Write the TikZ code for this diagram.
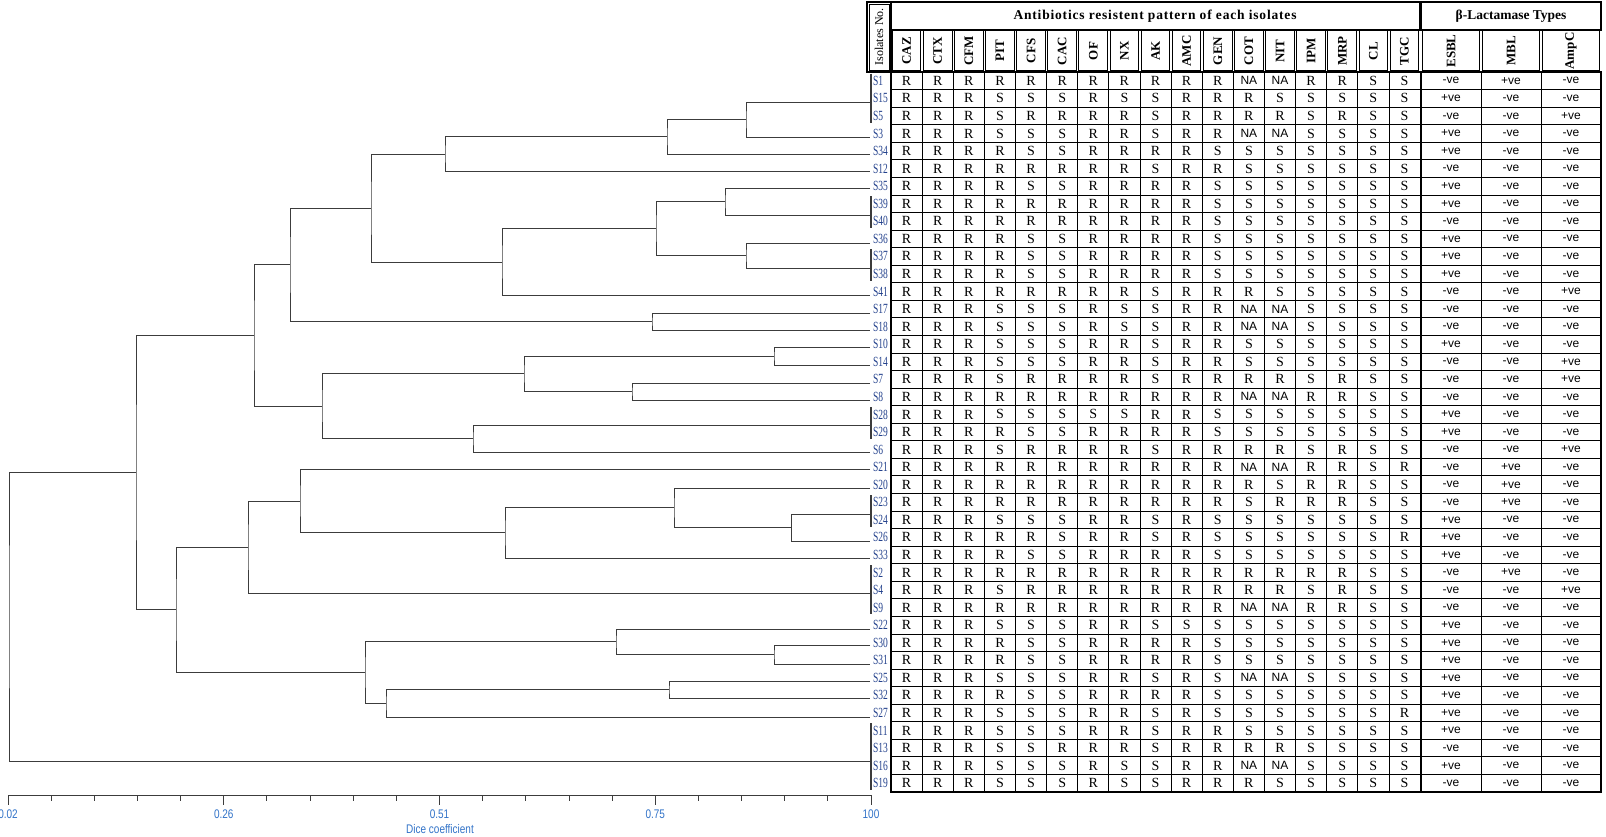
\documentclass[tikz,border=0pt]{standalone}
\usepackage{fontspec}
\setmainfont{Liberation Serif}
\setsansfont{Liberation Sans}
\definecolor{lblue}{RGB}{35,65,140}
\definecolor{ablue}{RGB}{50,115,200}
\definecolor{dline}{RGB}{60,60,60}
\def\cxR{R}\def\cxS{S}
\def\cxN{{\sffamily\fontsize{12}{12}\selectfont NA}}
\def\cxp{{\sffamily\fontsize{12}{12}\selectfont +ve}}
\def\cxm{{\sffamily\fontsize{12}{12}\selectfont -ve}}
\begin{document}
\begin{tikzpicture}[x=1pt,y=-1pt,
  lab/.style={anchor=west,inner sep=0pt,text=lblue,font=\fontsize{14}{14}\selectfont,xscale=0.68},
  cell/.style={inner sep=0pt,font=\fontsize{14}{14}\selectfont},
  colh/.style={rotate=90,inner sep=0pt,font=\bfseries\fontsize{13}{13}\selectfont},
  den/.style={draw=dline,line width=0.9pt},
  grid/.style={draw=black,line width=0.8pt},
  axl/.style={text=ablue,font=\sffamily\fontsize{12.5}{12.5}\selectfont,xscale=0.8,inner sep=0pt}]
\useasboundingbox (0,0) rectangle (1606,837);

% ---------- header ----------
\draw[line width=1.2pt] (867,2) rectangle (891,72);
\draw[line width=0.6pt] (869,4) rectangle (889,70);
\node[rotate=90,inner sep=0pt,font=\fontsize{12}{12}\selectfont] (hiso) at (879,37) {Isolates No.};
\draw[line width=1.2pt] (891,2) rectangle (1420,30);
\draw[line width=1.2pt] (1421,2) rectangle (1601,30);
\node[font=\bfseries\fontsize{13.5}{13.5}\selectfont\addfontfeature{LetterSpace=6}] (htitle) at (1155,16) {Antibiotics resistent pattern of each isolates};
\node[font=\bfseries\fontsize{13.5}{13.5}\selectfont] (hbeta) at (1511,16) {β-Lactamase Types};
\foreach \nm [count=\j] in {CAZ,CTX,CFM,PIT,CFS,CAC,OF,NX,AK,AMC,GEN,COT,NIT,IPM,MRP,CL,TGC}{
  \pgfmathsetmacro\xa{891+31.12*(\j-1)}
  \draw[line width=1pt] (\xa+1.2,31) rectangle (\xa+29.9,71);
  \node[colh] (h\j) at (\xa+15.56,51) {\nm};
}
\foreach \nm [count=\j] in {ESBL,MBL,AmpC}{
  \pgfmathsetmacro\xa{1421+60*(\j-1)}
  \draw[line width=1pt] (\xa+1.2,31) rectangle (\xa+58.8,71);
  \node[colh] (t\j) at (\xa+30,51) {\nm};
}

% ---------- table grid ----------
\foreach \k in {0,...,41}{
  \pgfmathsetmacro\yy{72+17.56*\k}
  \draw[grid] (891,\yy) -- (1601,\yy);
}
\foreach \j in {0,...,17}{
  \pgfmathsetmacro\xa{891+31.12*\j}
  \draw[grid] (\xa,72) -- (\xa,792);
}
\draw[grid,line width=1.6pt] (891+31.12*11,72) -- (891+31.12*11,792);
\foreach \x in {1421,1481,1541,1601}{\draw[grid] (\x,72) -- (\x,792);}
\draw[line width=1.3pt] (891,72) rectangle (1601,792);

% ---------- table content ----------
\foreach \lab/\vals [count=\i] in {
S1/{R,R,R,R,R,R,R,R,R,R,R,N,N,R,R,S,S,m,p,m},
S15/{R,R,R,S,S,S,R,S,S,R,R,R,S,S,S,S,S,p,m,m},
S5/{R,R,R,S,R,R,R,R,S,R,R,R,R,S,R,S,S,m,m,p},
S3/{R,R,R,S,S,S,R,R,S,R,R,N,N,S,S,S,S,p,m,m},
S34/{R,R,R,R,S,S,R,R,R,R,S,S,S,S,S,S,S,p,m,m},
S12/{R,R,R,R,R,R,R,R,S,R,R,S,S,S,S,S,S,m,m,m},
S35/{R,R,R,R,S,S,R,R,R,R,S,S,S,S,S,S,S,p,m,m},
S39/{R,R,R,R,R,R,R,R,R,R,S,S,S,S,S,S,S,p,m,m},
S40/{R,R,R,R,R,R,R,R,R,R,S,S,S,S,S,S,S,m,m,m},
S36/{R,R,R,R,S,S,R,R,R,R,S,S,S,S,S,S,S,p,m,m},
S37/{R,R,R,R,S,S,R,R,R,R,S,S,S,S,S,S,S,p,m,m},
S38/{R,R,R,R,S,S,R,R,R,R,S,S,S,S,S,S,S,p,m,m},
S41/{R,R,R,R,R,R,R,R,S,R,R,R,S,S,S,S,S,m,m,p},
S17/{R,R,R,S,S,S,R,S,S,R,R,N,N,S,S,S,S,m,m,m},
S18/{R,R,R,S,S,S,R,S,S,R,R,N,N,S,S,S,S,m,m,m},
S10/{R,R,R,S,S,S,R,R,S,R,R,S,S,S,S,S,S,p,m,m},
S14/{R,R,R,S,S,S,R,R,S,R,R,S,S,S,S,S,S,m,m,p},
S7/{R,R,R,S,R,R,R,R,S,R,R,R,R,S,R,S,S,m,m,p},
S8/{R,R,R,R,R,R,R,R,R,R,R,N,N,R,R,S,S,m,m,m},
S28/{R,R,R,S,S,S,S,S,R,R,S,S,S,S,S,S,S,p,m,m},
S29/{R,R,R,R,S,S,R,R,R,R,S,S,S,S,S,S,S,p,m,m},
S6/{R,R,R,S,R,R,R,R,S,R,R,R,R,S,R,S,S,m,m,p},
S21/{R,R,R,R,R,R,R,R,R,R,R,N,N,R,R,S,R,m,p,m},
S20/{R,R,R,R,R,R,R,R,R,R,R,R,S,R,R,S,S,m,p,m},
S23/{R,R,R,R,R,R,R,R,R,R,R,S,R,R,R,S,S,m,p,m},
S24/{R,R,R,S,S,S,R,R,S,R,S,S,S,S,S,S,S,p,m,m},
S26/{R,R,R,R,R,S,R,R,S,R,S,S,S,S,S,S,R,p,m,m},
S33/{R,R,R,R,S,S,R,R,R,R,S,S,S,S,S,S,S,p,m,m},
S2/{R,R,R,R,R,R,R,R,R,R,R,R,R,R,R,S,S,m,p,m},
S4/{R,R,R,S,R,R,R,R,R,R,R,R,R,S,R,S,S,m,m,p},
S9/{R,R,R,R,R,R,R,R,R,R,R,N,N,R,R,S,S,m,m,m},
S22/{R,R,R,S,S,S,R,R,S,S,S,S,S,S,S,S,S,p,m,m},
S30/{R,R,R,R,S,S,R,R,R,R,S,S,S,S,S,S,S,p,m,m},
S31/{R,R,R,R,S,S,R,R,R,R,S,S,S,S,S,S,S,p,m,m},
S25/{R,R,R,S,S,S,R,R,S,R,S,N,N,S,S,S,S,p,m,m},
S32/{R,R,R,R,S,S,R,R,R,R,S,S,S,S,S,S,S,p,m,m},
S27/{R,R,R,S,S,S,R,R,S,R,S,S,S,S,S,S,R,p,m,m},
S11/{R,R,R,S,S,S,R,R,S,R,R,S,S,S,S,S,S,p,m,m},
S13/{R,R,R,S,S,R,R,R,S,R,R,R,R,S,S,S,S,m,m,m},
S16/{R,R,R,S,S,S,R,S,S,R,R,N,N,S,S,S,S,p,m,m},
S19/{R,R,R,S,S,S,R,S,S,R,R,R,S,S,S,S,S,m,m,m}}{
  \pgfmathsetmacro\yc{72+17.56*(\i-0.5)}
  \node[lab] (l\lab) at (873,\yc) {\lab};
  \foreach \v [count=\j] in \vals {
    \ifnum\j<18 \pgfmathsetmacro\xc{891+31.12*(\j-0.5)}\else\pgfmathsetmacro\xc{1421+60*(\j-17.5)}\fi
    \node[cell] (c\i-\j) at (\xc,\yc) {\csname cx\v\endcsname};
  }
}

% ---------- label brackets ----------
\foreach \a/\b in {1/3,8/9,11/12,20/21,25/26,29/31,38/41}{
  \draw[line width=1.3pt,draw=dline] (871,72+17.56*\a-16) -- (871,72+17.56*\b-2);
}

% ---------- dendrogram ----------
\foreach \nm/\yy in {a/102,b/137,c/154,d/171,e/188,f/215,g/243,h/268,i/295,j/313,k/330,
  l/347,m/365,n/383,o/400,p/425,q/452,r/469,s/488,t/514,u/541,v/558,w/593,x/629,
  y/645,z/664,aa/681,ab/698,ac/717,ad/761}{
  \coordinate (L\nm) at (870,\yy);
}
\coordinate (n1) at (746,119.5);
\coordinate (n2) at (667,136.5);
\coordinate (n3) at (445,154);
\coordinate (n4) at (725,201.5);
\coordinate (n5) at (746,255.5);
\coordinate (n6) at (656,228.5);
\coordinate (n7) at (502,262);
\coordinate (n8) at (371,208);
\coordinate (n9) at (652,321.5);
\coordinate (n10) at (290,264.75);
\coordinate (n11) at (774,356);
\coordinate (n12) at (632,391.5);
\coordinate (n13) at (524,373.75);
\coordinate (n14) at (473,438.5);
\coordinate (n23) at (322,406.1);
\coordinate (n24) at (254,335.4);
\coordinate (n16) at (791,527.5);
\coordinate (n15) at (674,507.75);
\coordinate (n17) at (505,532.9);
\coordinate (n25) at (300,501);
\coordinate (n26) at (248,547);
\coordinate (n19) at (774,654.5);
\coordinate (n18) at (616,641.75);
\coordinate (n21) at (669,689.5);
\coordinate (n22) at (386,703.25);
\coordinate (n20) at (365,672.5);
\coordinate (n27) at (176,609.75);
\coordinate (n28) at (136,472.6);
\coordinate (root) at (9,616.8);
\foreach \p/\c/\d in {n1/La/Lb, n2/n1/Lc, n3/n2/Ld, n4/Le/Lf, n5/Lg/Lh, n6/n4/n5,
  n7/n6/Li, n8/n3/n7, n9/Lj/Lk, n10/n8/n9, n11/Ll/Lm, n12/Ln/Lo, n13/n11/n12,
  n14/Lp/Lq, n23/n13/n14, n24/n10/n23, n16/Lt/Lu, n15/Ls/n16, n17/n15/Lv,
  n25/Lr/n17, n26/n25/Lw, n19/Ly/Lz, n18/Lx/n19, n21/Laa/Lab, n22/n21/Lac,
  n20/n18/n22, n27/n26/n20, n28/n24/n27, root/n28/Lad}{
  \draw[den] (\c) -| (\p) |- (\d);
}

% ---------- axis ----------
\coordinate (ax0) at (8,795);
\coordinate (ax1) at (871,795);
\draw[line width=1pt,draw=dline] (ax0) -- (ax1);
\foreach \k in {0,...,20}{
  \pgfmathsetmacro\xx{8+43.15*\k}
  \draw[line width=0.9pt,draw=dline] (\xx,795) -- (\xx,801);
}
\foreach \k/\t in {0/0.02,5/0.26,10/0.51,15/0.75,20/100}{
  \draw[line width=0.9pt,draw=dline] (8+43.15*\k,795) -- (8+43.15*\k,805);
  \node[axl] (ax\k) at (8+43.15*\k,814) {\t};
}
\node[axl] (dice) at (440,829) {Dice coefficient};
\end{tikzpicture}
\end{document}
